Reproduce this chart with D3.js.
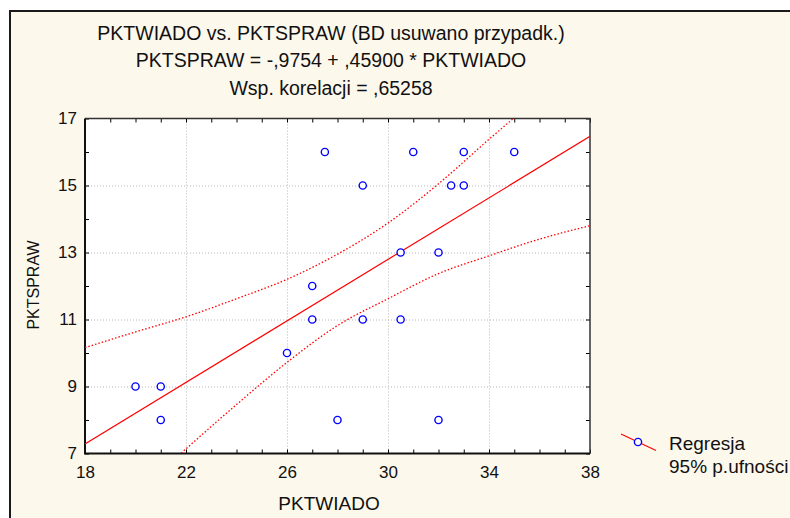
<!DOCTYPE html>
<html>
<head>
<meta charset="utf-8">
<script src="https://cdn.jsdelivr.net/npm/d3@7"></script>
<style>
  body { margin: 0; background: #fff; }
  svg text { font-family: "Liberation Sans", Arial, sans-serif; fill: #111; }
</style>
</head>
<body>
<div id="chart"></div>
<script>
// data
const pktwiado = [27.5, 31, 33, 35, 29, 32.5, 33, 30.5, 32, 27, 27, 29, 30.5, 26, 20, 21, 21, 28, 32]
const pktspraw = [16, 16, 16, 16, 15, 15, 15, 13, 13, 12, 11, 11, 11, 10, 9, 9, 8, 8, 8]

const intercept = -0.9754
const slope = 0.45900

const bandX = [18, 20, 22, 24, 26, 28, 30, 32, 34, 36, 38]
const bandUpper = [10.16, 10.63, 11.08, 11.62, 12.2, 12.95, 13.88, 15.05, 16.38, 17.67, 19.04]
const bandLower = [4.42, 5.78, 7.14, 8.46, 9.72, 10.82, 11.62, 12.37, 12.9, 13.4, 13.8]

const xTicks = [18, 22, 26, 30, 34, 38]
const yTicks = [7, 9, 11, 13, 15, 17]

const titleLines = [
  'PKTWIADO vs. PKTSPRAW (BD usuwano przypadk.)',
  'PKTSPRAW = -,9754 + ,45900 * PKTWIADO',
  'Wsp. korelacji = ,65258'
]
const legendLabels = ['Regresja', '95% p.ufności']

const width = 790
const height = 518
const plot = { left: 85, right: 590, top: 118.5, bottom: 453.5 }

const svg = d3.select('#chart').append('svg')
  .attr('width', width)
  .attr('height', height)

// cream panel with dark frame
svg.append('rect')
  .attr('x', 10).attr('y', 11)
  .attr('width', width).attr('height', height)
  .attr('fill', '#fdf8ec')
  .attr('stroke', '#1a1a1a')
  .attr('stroke-width', 2)

const x = d3.scaleLinear().domain([18, 38]).range([plot.left, plot.right])
const y = d3.scaleLinear().domain([7, 17]).range([plot.bottom, plot.top])

svg.append('rect')
  .attr('x', plot.left).attr('y', plot.top)
  .attr('width', plot.right - plot.left).attr('height', plot.bottom - plot.top)
  .attr('fill', '#fff')

svg.append('clipPath').attr('id', 'clip')
  .append('rect')
  .attr('x', plot.left).attr('y', plot.top)
  .attr('width', plot.right - plot.left).attr('height', plot.bottom - plot.top)

// grid
const grid = svg.append('g')
  .attr('stroke', '#b8b8b8')
  .attr('stroke-width', 1)
  .attr('stroke-dasharray', '1,2')
grid.selectAll('.gx').data(xTicks.slice(1, -1)).enter().append('line')
  .attr('x1', d => x(d) + 0.5).attr('x2', d => x(d) + 0.5)
  .attr('y1', plot.top).attr('y2', plot.bottom)
grid.selectAll('.gy').data(yTicks.slice(1, -1)).enter().append('line')
  .attr('y1', d => y(d) + 0.5).attr('y2', d => y(d) + 0.5)
  .attr('x1', plot.left).attr('x2', plot.right)

// minor ticks pointing inward on all four sides
const minorX = d3.range(18, 38.01, 1)
const minorY = d3.range(7, 17.01, 1)
svg.append('g')
  .attr('transform', `translate(0,${plot.bottom})`)
  .call(d3.axisTop(x).tickValues(minorX).tickSize(4).tickFormat(''))
  .call(g => g.select('.domain').remove())
svg.append('g')
  .attr('transform', `translate(0,${plot.top})`)
  .call(d3.axisBottom(x).tickValues(minorX).tickSize(4).tickFormat(''))
  .call(g => g.select('.domain').remove())
svg.append('g')
  .attr('transform', `translate(${plot.left},0)`)
  .call(d3.axisRight(y).tickValues(minorY).tickSize(4).tickFormat(''))
  .call(g => g.select('.domain').remove())
svg.append('g')
  .attr('transform', `translate(${plot.right},0)`)
  .call(d3.axisLeft(y).tickValues(minorY).tickSize(4).tickFormat(''))
  .call(g => g.select('.domain').remove())

// tick labels
const xAxis = svg.append('g')
  .attr('transform', `translate(0,${plot.bottom})`)
  .call(d3.axisBottom(x).tickValues(xTicks).tickSize(0).tickPadding(12).tickFormat(d3.format('d')))
xAxis.select('.domain').remove()
xAxis.selectAll('text').attr('font-size', 17).attr('fill', '#111')

const yAxis = svg.append('g')
  .attr('transform', `translate(${plot.left},0)`)
  .call(d3.axisLeft(y).tickValues(yTicks).tickSize(0).tickPadding(8).tickFormat(d3.format('d')))
yAxis.select('.domain').remove()
yAxis.selectAll('text').attr('font-size', 17).attr('fill', '#111')

// plot frame
svg.append('path')
  .attr('d', `M${plot.left},${plot.top}H${plot.right}V${plot.bottom}`)
  .attr('fill', 'none').attr('stroke', '#333').attr('stroke-width', 1.5)
svg.append('path')
  .attr('d', `M${plot.left},${plot.top}V${plot.bottom}H${plot.right}`)
  .attr('fill', 'none').attr('stroke', '#111').attr('stroke-width', 2)

// regression + confidence bands
const lines = svg.append('g').attr('clip-path', 'url(#clip)')
lines.append('line')
  .attr('x1', x(18)).attr('y1', y(intercept + slope * 18))
  .attr('x2', x(38)).attr('y2', y(intercept + slope * 38))
  .attr('stroke', '#f00').attr('stroke-width', 1.2)

const band = d3.line()
  .x((d, i) => x(bandX[i]))
  .y(d => y(d))
  .curve(d3.curveMonotoneX)
;[bandUpper, bandLower].forEach(vals => {
  lines.append('path')
    .attr('d', band(vals))
    .attr('fill', 'none')
    .attr('stroke', '#f00')
    .attr('stroke-width', 1.3)
    .attr('stroke-dasharray', '1.5,2')
})

// points
svg.append('g').selectAll('circle')
  .data(pktwiado).enter().append('circle')
  .attr('cx', d => x(d))
  .attr('cy', (d, i) => y(pktspraw[i]))
  .attr('r', 3.6)
  .attr('fill', '#fff')
  .attr('stroke', '#0000ff')
  .attr('stroke-width', 1.4)

// titles
svg.append('g').selectAll('text')
  .data(titleLines).enter().append('text')
  .attr('x', 331)
  .attr('y', (d, i) => 39.5 + i * 27.5)
  .attr('text-anchor', 'middle')
  .attr('font-size', 19.5)
  .text(d => d)

svg.append('text')
  .attr('x', 329).attr('y', 509.5)
  .attr('text-anchor', 'middle')
  .attr('font-size', 19)
  .text('PKTWIADO')

svg.append('text')
  .attr('transform', 'translate(39,285) rotate(-90)')
  .attr('text-anchor', 'middle')
  .attr('font-size', 16)
  .text('PKTSPRAW')

// legend
const legend = svg.append('g')
legend.append('line')
  .attr('x1', 621).attr('y1', 434)
  .attr('x2', 656).attr('y2', 450.5)
  .attr('stroke', '#f00').attr('stroke-width', 1.2)
legend.append('circle')
  .attr('cx', 638).attr('cy', 442).attr('r', 3.6)
  .attr('fill', '#fff').attr('stroke', '#0000ff').attr('stroke-width', 1.4)
legend.selectAll('.lt').data(legendLabels).enter().append('text')
  .attr('x', 669)
  .attr('y', (d, i) => 449.5 + i * 23.5)
  .attr('font-size', 19)
  .text(d => d)
</script>
</body>
</html>
